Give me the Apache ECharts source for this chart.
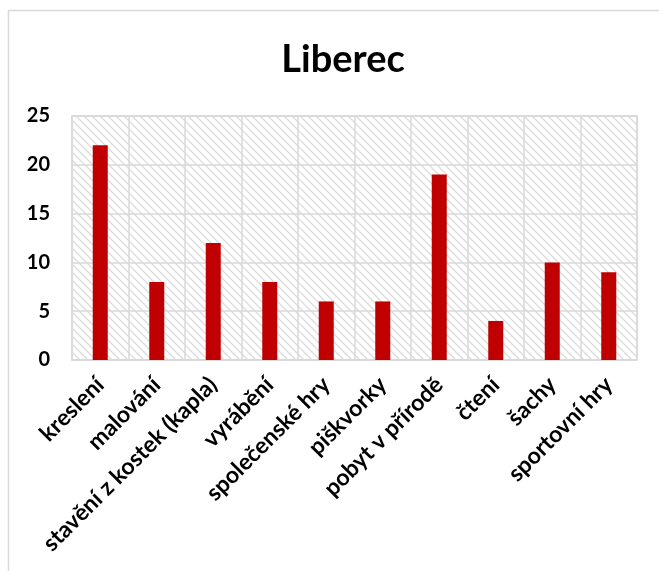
<!DOCTYPE html>
<html><head><meta charset="utf-8">
<script src="https://cdn.jsdelivr.net/npm/echarts@6/dist/echarts.min.js"></script>
<style>html,body{margin:0;padding:0;background:#fff}#c{width:659px;height:571px}</style>
</head><body><div id="c"></div>
<script>
const categories = ['kreslení','malování','stavění z kostek (kapla)','vyrábění','společenské hry','piškvorky','pobyt v přírodě','čtení','šachy','sportovní hry'];
const values = [22, 8, 12, 8, 6, 6, 19, 4, 10, 9];
const yTicks = [0, 5, 10, 15, 20, 25];

const tile = document.createElement('canvas');
tile.width = 8; tile.height = 8;
const g = tile.getContext('2d');
g.fillStyle = '#ffffff'; g.fillRect(0,0,8,8);
g.strokeStyle = '#dcdcdc'; g.lineWidth = 1.3;
g.beginPath(); g.moveTo(-1,-1); g.lineTo(9,9); g.stroke();
g.beginPath(); g.moveTo(-1,7); g.lineTo(1,9); g.stroke();
g.beginPath(); g.moveTo(7,-1); g.lineTo(9,1); g.stroke();

const chart = echarts.init(document.getElementById('c'), null, {renderer:'canvas'});
const font = 'Lato, "Open Sans", sans-serif';
chart.setOption({
  animation: false,
  backgroundColor: '#fff',
  title: {text: 'Liberec', left: 338, textAlign: 'center', top: 36, textStyle: {fontFamily: font, fontWeight: 'bold', fontSize: 38, color: '#000'}},
  graphic: [
    {type:'line', shape:{x1:8, y1:10.5, x2:659, y2:10.5}, style:{stroke:'#d9d9d9', lineWidth:1.5}},
    {type:'line', shape:{x1:8.5, y1:10, x2:8.5, y2:571}, style:{stroke:'#d9d9d9', lineWidth:1.5}}
  ],
  grid: {left: 72, right: 22, top: 116, bottom: 211, show: true, backgroundColor: {image: tile, repeat: 'repeat'}, borderColor: '#d9d9d9', borderWidth: 1.5},
  xAxis: {
    type: 'category', data: categories,
    axisLine: {show: true, lineStyle: {color: '#d9d9d9', width: 1.5}},
    axisTick: {show: false},
    splitLine: {show: true, lineStyle: {color: '#d9d9d9', width: 1.5}},
    axisLabel: {rotate: 45, interval: 0, margin: 21, fontFamily: font, fontWeight: 'bold', fontSize: 23, color: '#000'}
  },
  yAxis: {
    type: 'value', min: yTicks[0], max: yTicks[yTicks.length-1], interval: 5,
    axisLine: {show: false}, axisTick: {show: false},
    splitLine: {lineStyle: {color: '#d9d9d9', width: 1.5}},
    axisLabel: {margin: 22, fontFamily: font, fontWeight: 'bold', fontSize: 20, color: '#000'}
  },
  series: [{type: 'bar', data: values, barWidth: 15, itemStyle: {color: '#C00000'}}]
});
</script></body></html>
